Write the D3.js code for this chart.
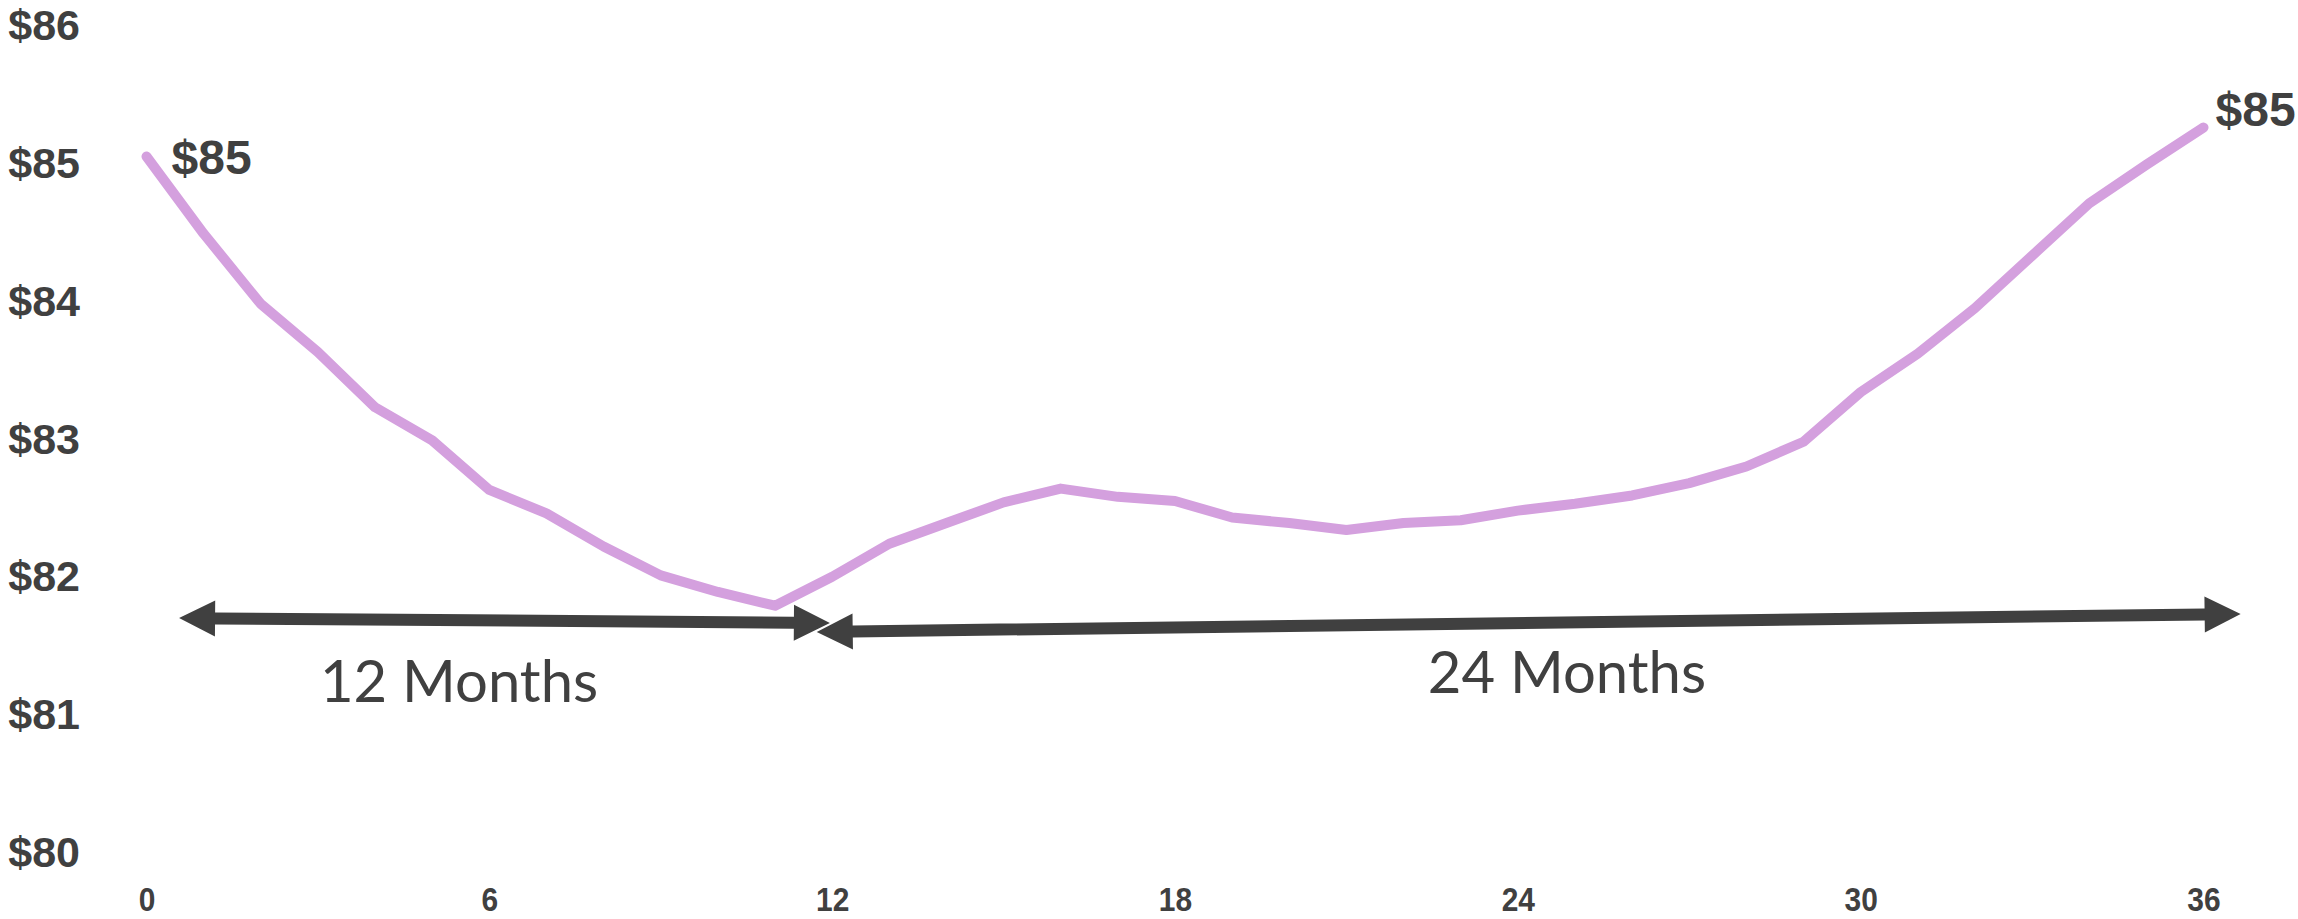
<!DOCTYPE html>
<html>
<head>
<meta charset="utf-8">
<script src="https://cdn.jsdelivr.net/npm/d3@7"></script>
<style>
  html, body { margin: 0; padding: 0; background: #ffffff; }
  svg { display: block; }
</style>
</head>
<body>
<svg id="chart" width="2298" height="919"></svg>
<script>
// Monthly price path over a 36-month horizon
const months = d3.range(0, 37);
const prices = [
  85.04, 84.48, 83.97, 83.62, 83.22, 82.98, 82.62, 82.45, 82.21, 82.00,
  81.88, 81.78, 81.99, 82.23, 82.38, 82.53, 82.63, 82.57, 82.54, 82.42,
  82.38, 82.33, 82.38, 82.40, 82.47, 82.52, 82.58, 82.67, 82.79, 82.97,
  83.33, 83.61, 83.94, 84.32, 84.70, 84.98, 85.25
];

const yTicks = [80, 81, 82, 83, 84, 85, 86];
const xTicks = [0, 6, 12, 18, 24, 30, 36];

// Period spans: [startMonth, startValue, endMonth, endValue]
const spanLabels = ["12 Months", "24 Months"];
const spanStarts = [[0.57, 81.69], [11.73, 81.59]];
const spanEnds = [[11.96, 81.655], [36.65, 81.72]];
const spanTextAt = [[5.47, 81.08], [24.86, 81.15]];

// Endpoint data labels: index into the series, with pixel nudges
const endLabelIdx = [0, 36];
const endLabelNudge = [[25, 0], [12, -19]];

const ink = "#404040";
const lineColor = "#d4a0de";

const svg = d3.select("#chart");

const x = d3.scaleLinear().domain([0, 36]).range([146.5, 2203.5]);
const y = d3.scaleLinear().domain([80, 86]).range([851, 24.2]);

// Y axis: dollar labels only, no rule or ticks
const yAxis = svg.append("g")
  .attr("transform", "translate(80,0)")
  .call(d3.axisLeft(y).tickValues(yTicks).tickSize(0).tickPadding(0).tickFormat(d => "$" + d));
yAxis.select(".domain").remove();
yAxis.selectAll("text")
  .attr("fill", ink)
  .attr("font-family", "'Liberation Sans', Arial, sans-serif")
  .attr("font-weight", "bold")
  .attr("font-size", 43)
  .attr("dy", "0.36em");

// X axis: month numbers in a tall, narrow bold face
const xAxis = svg.append("g")
  .attr("transform", "translate(0,911)")
  .call(d3.axisBottom(x).tickValues(xTicks).tickSize(0).tickPadding(0));
xAxis.select(".domain").remove();
xAxis.selectAll("text")
  .attr("y", 0)
  .attr("dy", null)
  .attr("transform", "scale(0.88,1)")
  .attr("fill", ink)
  .attr("font-family", "'Liberation Sans Narrow', 'Liberation Sans', Arial, sans-serif")
  .attr("font-weight", "bold")
  .attr("font-size", 34);

// Price line
const line = d3.line()
  .x((d, i) => x(months[i]))
  .y(d => y(d));

svg.append("path")
  .datum(prices)
  .attr("d", line)
  .attr("fill", "none")
  .attr("stroke", lineColor)
  .attr("stroke-width", 10)
  .attr("stroke-linejoin", "round")
  .attr("stroke-linecap", "round");

// Endpoint value labels
const fmt = d3.format("$.0f");
svg.selectAll("text.endLabel")
  .data(endLabelIdx)
  .join("text")
  .attr("class", "endLabel")
  .attr("x", (d, i) => x(months[d]) + endLabelNudge[i][0])
  .attr("y", (d, i) => y(prices[d]) + endLabelNudge[i][1])
  .attr("dy", "0.36em")
  .attr("fill", ink)
  .attr("font-family", "'Liberation Sans', Arial, sans-serif")
  .attr("font-weight", "bold")
  .attr("font-size", 48)
  .text(d => fmt(prices[d]));

// Double-headed span arrows
function arrowPolygon(x0, y0, x1, y1, shaft, headLen, headHalf) {
  const dx = x1 - x0, dy = y1 - y0;
  const len = Math.hypot(dx, dy);
  const ux = dx / len, uy = dy / len;
  const nx = -uy, ny = ux;
  const s = shaft / 2;
  const pt = (t, o) => [x0 + ux * t + nx * o, y0 + uy * t + ny * o];
  return [
    pt(0, 0),
    pt(headLen, headHalf),
    pt(headLen, s),
    pt(len - headLen, s),
    pt(len - headLen, headHalf),
    pt(len, 0),
    pt(len - headLen, -headHalf),
    pt(len - headLen, -s),
    pt(headLen, -s),
    pt(headLen, -headHalf)
  ];
}

svg.selectAll("polygon.span")
  .data(spanLabels)
  .join("polygon")
  .attr("class", "span")
  .attr("fill", ink)
  .attr("points", (d, i) => arrowPolygon(
      x(spanStarts[i][0]), y(spanStarts[i][1]),
      x(spanEnds[i][0]), y(spanEnds[i][1]),
      12, 36, 18).map(p => p.join(",")).join(" "));

svg.selectAll("text.spanLabel")
  .data(spanLabels)
  .join("text")
  .attr("class", "spanLabel")
  .attr("x", (d, i) => x(spanTextAt[i][0]))
  .attr("y", (d, i) => y(spanTextAt[i][1]))
  .attr("text-anchor", "middle")
  .attr("fill", ink)
  .attr("font-family", "Lato, 'Open Sans', sans-serif")
  .attr("font-size", 58)
  .text(d => d);
</script>
</body>
</html>
